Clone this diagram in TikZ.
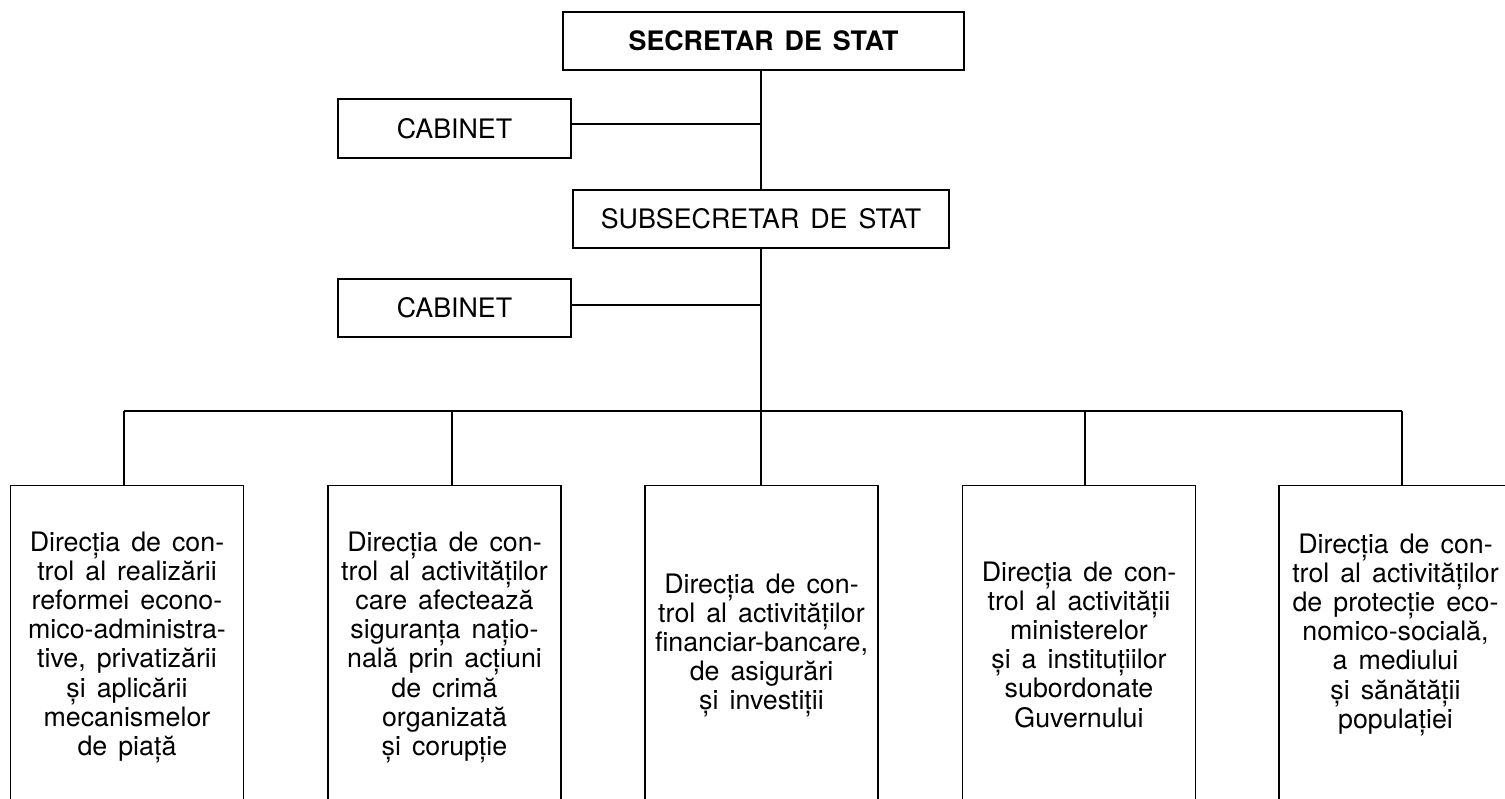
\documentclass[tikz,border=0pt]{standalone}
\usepackage{fontspec}
\setmainfont{TeX Gyre Heros}
\protected\def\myspacing{\spaceskip=11pt plus 2pt minus 1pt\relax}
\begin{document}
\begin{tikzpicture}[x=1pt,y=-1pt,line width=1.2pt,
  txt/.style={font=\fontsize{26.8}{29.2}\selectfont\myspacing},
  box/.style={draw,rectangle,inner sep=0pt,txt},
  dbox/.style={draw,rectangle,inner sep=0pt,minimum width=233pt,minimum height=420pt,anchor=north},
  dtext/.style={txt,inner sep=0pt,align=center,anchor=north}]
\useasboundingbox (0,0) rectangle (1505,799);
\clip (0,0) rectangle (1505,799);
% top part
\node[box,minimum width=401pt,minimum height=58pt] (sec) at (763.5,41) {\bfseries SECRETAR DE STAT};
\node[box,minimum width=376pt,minimum height=58pt] (sub) at (761,219) {SUBSECRETAR DE STAT};
\node[box,minimum width=233pt,minimum height=59pt] (cab1) at (454.5,128.5) {CABINET};
\node[box,minimum width=233pt,minimum height=58pt] (cab2) at (454.5,308) {CABINET};
\coordinate (j1) at (761,124);
\coordinate (j2) at (761,305);
% bus coordinates
\coordinate (b1) at (124,411);
\coordinate (b2) at (452,411);
\coordinate (b3) at (761,411);
\coordinate (b4) at (1085,411);
\coordinate (b5) at (1402,411);
% bottom boxes
\node[dbox] (d1) at (127,485) {};
\node[dbox] (d2) at (444.5,485) {};
\node[dbox] (d3) at (761.5,485) {};
\node[dbox] (d4) at (1079,485) {};
\node[dbox] (d5) at (1395.5,485) {};
\node[dtext] (t1) at (127,531) {Direcția de con-\\trol al realizării\\reformei econo-\\mico-administra-\\tive, privatizării\\și aplicării\\mecanismelor\\de piață};
\node[dtext] (t2) at (444.5,531) {Direcția de con-\\trol al activităților\\care afectează\\siguranța națio-\\nală prin acțiuni\\de crimă\\organizată\\și corupție};
\node[dtext] (t3) at (761.5,573) {Direcția de con-\\trol al activităților\\financiar-bancare,\\de asigurări\\și investiții};
\node[dtext] (t4) at (1079,561) {Direcția de con-\\trol al activității\\ministerelor\\și a instituțiilor\\subordonate\\Guvernului};
\node[dtext] (t5) at (1395.5,533) {Direcția de con-\\trol al activităților\\de protecție eco-\\nomico-socială,\\a mediului\\și sănătății\\populației};
% connectors
\draw (sub.north |- sec.south) -- (sub.north);
\draw (sub.south) -- (b3);
\draw (j1 -| cab1.east) -- (j1);
\draw (j2 -| cab2.east) -- (j2);
\draw (b1) -- (b5);
\draw (b1) -- (b1 |- d1.north);
\draw (b2) -- (b2 |- d2.north);
\draw (b3) -- (b3 |- d3.north);
\draw (b4) -- (b4 |- d4.north);
\draw (b5) -- (b5 |- d5.north);
\end{tikzpicture}
\end{document}
